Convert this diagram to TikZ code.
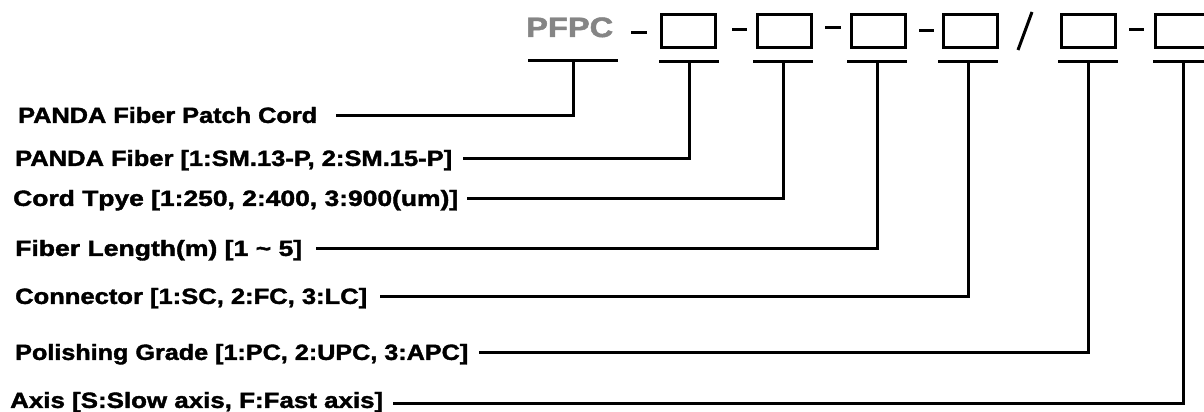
\documentclass[tikz,border=0pt]{standalone}
\usepackage{fontspec}
\setmainfont{Liberation Sans}[BoldFeatures={FakeBold=1.6}]
\definecolor{pfgray}{HTML}{858585}
\begin{document}
\begin{tikzpicture}[x=1pt,y=-1pt,
  lbl/.style={anchor=west,inner sep=0pt,font=\fontsize{22}{22}\selectfont\bfseries,text height=16.8pt,text depth=1pt},
  conn/.style={line width=3pt,line join=miter},
  slot/.style={draw,line width=3pt,minimum width=54pt,minimum height=33pt,inner sep=0pt},
  sep/.style={line width=3pt}
]
\useasboundingbox (0,0) rectangle (1204,412);
\fill[white] (0,0) rectangle (1204,412);
\clip (0,0) rectangle (1204,412);

% code header
\node[inner sep=0pt,anchor=base west,text=pfgray,font=\fontsize{28}{28}\selectfont\bfseries] (code) at (526,37) {\resizebox{87pt}{\height}{PFPC}};
\node[slot] (b1) at (688,31) {};
\node[slot] (b2) at (784,31) {};
\node[slot] (b3) at (878,31) {};
\node[slot] (b4) at (970,31) {};
\node[slot] (b5) at (1088,31) {};
\node[slot] (b6) at (1182,31) {};

% separators
\draw[sep] (631,33) -- (647,33);
\draw[sep] (732,30) -- (747,30);
\draw[sep] (825,28) -- (841,28);
\draw[sep] (919,31) -- (934,31);
\draw[sep] (1129,30) -- (1144,30);
\draw[sep] (1032,12) -- (1018,50);

% T bars
\coordinate (t0) at (573,61);
\coordinate (t1) at (689,62);
\coordinate (t2) at (783,62);
\coordinate (t3) at (877,62);
\coordinate (t4) at (968,62);
\coordinate (t5) at (1088,62);
\coordinate (t6) at (1183,62);
\draw[conn] ([xshift=-45pt]t0) -- ([xshift=45pt]t0);
\foreach \t in {t1,t2,t3,t4,t5,t6}
  \draw[conn] ([xshift=-30pt]\t) -- ([xshift=30pt]\t);

% labels
\node[lbl] (L1) at (18,115) {\resizebox{299pt}{\height}{PANDA Fiber Patch Cord}};
\node[lbl] (L2) at (15,158) {\resizebox{437pt}{\height}{PANDA Fiber [1:SM.13-P, 2:SM.15-P]}};
\node[lbl] (L3) at (13,198) {\resizebox{445pt}{\height}{Cord Tpye [1:250, 2:400, 3:900(um)]}};
\node[lbl] (L4) at (15,248) {\resizebox{287pt}{\height}{Fiber Length(m) [1 \textasciitilde{} 5]}};
\node[lbl] (L5) at (15,296) {\resizebox{352pt}{\height}{Connector [1:SC, 2:FC, 3:LC]}};
\node[lbl] (L6) at (15,352) {\resizebox{453pt}{\height}{Polishing Grade [1:PC, 2:UPC, 3:APC]}};
\node[lbl] (L7) at (10,400) {\resizebox{373pt}{\height}{Axis [S:Slow axis, F:Fast axis]}};

% connectors
\draw[conn] ([xshift=19pt]L1.east) -| (t0);
\draw[conn] ([xshift=11pt]L2.east) -| (t1);
\draw[conn] ([xshift=9pt]L3.east) -| (t2);
\draw[conn] ([xshift=14pt]L4.east) -| (t3);
\draw[conn] ([xshift=13pt]L5.east) -| (t4);
\draw[conn] ([xshift=11pt]L6.east) -| (t5);
\draw[conn] ([xshift=10pt,yshift=-3pt]L7.east) -| (t6);
\end{tikzpicture}
\end{document}
